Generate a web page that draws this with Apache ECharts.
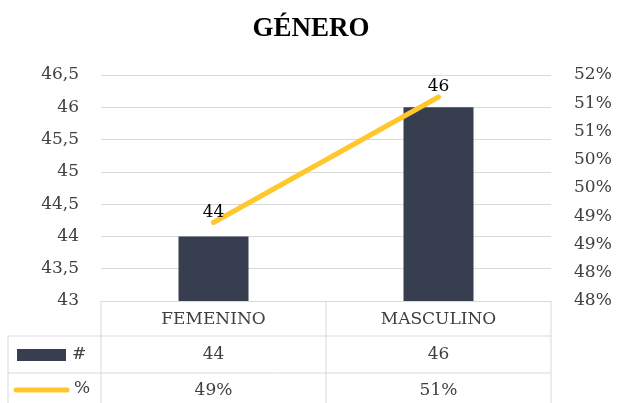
<!DOCTYPE html>
<html>
<head>
<meta charset="utf-8">
<script src="https://cdn.jsdelivr.net/npm/echarts@6/dist/echarts.min.js"></script>
<style>
  html, body { margin: 0; padding: 0; background: #fff; }
  #main { width: 622px; height: 403px; }
</style>
</head>
<body>
<div id="main"></div>
<script>
  // data
  var categories = ['FEMENINO', 'MASCULINO']
  var seriesNames = ['#', '%']
  var counts = [44, 46]
  var percents = [48.89, 51.11]

  var barColor = '#363E4F'
  var lineColor = '#FFC72C'
  var gridColor = '#D9D9D9'
  var textColor = '#404040'
  var font = 'DejaVu Serif'

  var chart = echarts.init(document.getElementById('main'))

  var plotL = 101, plotR = 551, plotT = 75, plotB = 301
  var rowY = [301, 336, 373, 410]
  var colW = (plotR - plotL) / categories.length

  // data table under the plot, built from the arrays
  var graphics = []
  function line(x1, y1, x2, y2) {
    graphics.push({ type: 'line', shape: { x1: x1, y1: y1, x2: x2, y2: y2 },
      style: { stroke: gridColor, lineWidth: 1 }, silent: true })
  }
  function text(x, y, s) {
    graphics.push({ type: 'text', x: x, y: y,
      style: { text: s, fill: textColor, font: '17px "' + font + '"', align: 'center', verticalAlign: 'middle' } })
  }
  line(8, rowY[1], plotR, rowY[1])
  line(8, rowY[2], plotR, rowY[2])
  line(8, rowY[1], 8, rowY[3])
  for (var i = 0; i <= categories.length; i++) {
    line(plotL + colW * i, rowY[0], plotL + colW * i, rowY[3])
  }
  categories.forEach(function (c, i) {
    var cx = plotL + colW * (i + 0.5)
    text(cx, (rowY[0] + rowY[1]) / 2 + 1, c)
    text(cx, (rowY[1] + rowY[2]) / 2, String(counts[i]))
    text(cx, (rowY[2] + rowY[3]) / 2 - 1, Math.round(percents[i]) + '%')
  })
  // legend keys
  graphics.push({ type: 'rect', shape: { x: 17, y: 349, width: 49, height: 12 }, style: { fill: barColor } })
  text(79, 355, seriesNames[0])
  graphics.push({ type: 'line', shape: { x1: 16, y1: 390, x2: 67, y2: 390 },
    style: { stroke: lineColor, lineWidth: 5, lineCap: 'round' } })
  text(82, 389, seriesNames[1])

  chart.setOption({
    animation: false,
    title: {
      text: 'GÉNERO',
      left: 'center',
      top: 11,
      textStyle: { fontFamily: 'Liberation Serif', fontWeight: 'bold', fontSize: 27, color: '#000' }
    },
    grid: { left: plotL, right: 622 - plotR, top: plotT, bottom: 403 - plotB },
    xAxis: {
      type: 'category',
      data: categories,
      axisLine: { lineStyle: { color: gridColor } },
      axisTick: { show: false },
      axisLabel: { show: false }
    },
    yAxis: [
      {
        type: 'value',
        min: 43,
        max: 46.5,
        interval: 0.5,
        axisLine: { show: false },
        axisTick: { show: false },
        splitLine: { lineStyle: { color: gridColor } },
        axisLabel: {
          margin: 22,
          color: textColor,
          fontFamily: font,
          fontSize: 17,
          formatter: function (v) { return String(v).replace('.', ',') }
        }
      },
      {
        type: 'value',
        min: 47.5,
        max: 51.5,
        interval: 0.5,
        axisLine: { show: false },
        axisTick: { show: false },
        splitLine: { show: false },
        axisLabel: {
          margin: 23,
          color: textColor,
          fontFamily: font,
          fontSize: 17,
          formatter: function (v) { return Math.round(v) + '%' }
        }
      }
    ],
    series: [
      {
        name: seriesNames[0],
        type: 'bar',
        data: counts,
        barWidth: 70,
        itemStyle: { color: barColor }
      },
      {
        name: seriesNames[1],
        type: 'line',
        yAxisIndex: 1,
        data: percents,
        symbol: 'circle',
        symbolSize: 1,
        showAllSymbol: true,
        itemStyle: { color: lineColor },
        lineStyle: { color: lineColor, width: 5, cap: 'round' },
        label: {
          show: true,
          position: 'top',
          distance: 1,
          color: '#000',
          fontFamily: font,
          fontSize: 17,
          formatter: function (p) { return String(counts[p.dataIndex]) }
        }
      }
    ],
    graphic: graphics
  })
</script>
</body>
</html>
